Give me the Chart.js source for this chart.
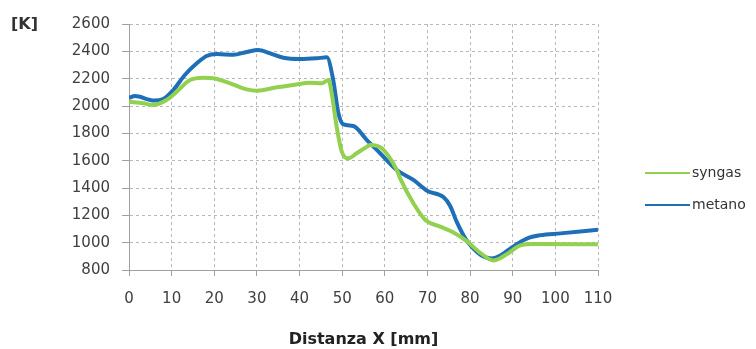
<!DOCTYPE html>
<html>
<head>
<meta charset="utf-8">
<script src="https://cdn.jsdelivr.net/npm/chart.js@4.4.1/dist/chart.umd.min.js"></script>
<style>
    html, body { margin: 0; padding: 0; background: #fff; }
    #wrap { position: relative; width: 756px; height: 349px; }
    #unit { position: absolute; left: 11px; top: 14px; font: bold 16px 'DejaVu Sans', sans-serif; color: #333; }
    .leg { position: absolute; left: 645px; font: 14px 'DejaVu Sans', sans-serif; color: #333; }
    .leg span { display: inline-block; width: 45px; height: 2px; vertical-align: middle; margin-right: 2px; }
</style>
</head>
<body>
<div id="wrap">
    <canvas id="chart" width="756" height="349"></canvas>
    <div id="unit">[K]</div>
    <div class="leg" style="top:164px"><span style="background:#92d050"></span>syngas</div>
    <div class="leg" style="top:196px"><span style="background:#1f6fb8"></span>metano</div>
</div>
<script>
// Distanza X [mm] -> temperatura [K]
const syngasX = [0, 3.4, 5.6, 8.8, 11.2, 14.3, 17.4, 19.8, 23.7, 27.6, 30, 34.7, 38.6, 42.5, 45.2, 46.8, 47.6, 48.7, 49.9, 51.5, 53.4, 55.8, 56.6, 59.3, 62.8, 63.6, 66.7, 69.5, 73, 76.1, 79.3, 82.4, 85.5, 88.6, 91.8, 94.9, 110];
const syngasY = [2031, 2020, 2007, 2044, 2105, 2190, 2207, 2203, 2166, 2122, 2112, 2137, 2154, 2171, 2166, 2190, 2080, 1849, 1666, 1617, 1654, 1702, 1715, 1690, 1532, 1471, 1288, 1166, 1117, 1075, 1010, 925, 870, 915, 980, 990, 988];

const metanoX = [0, 1.4, 5.9, 8, 10.4, 13.1, 15.9, 18.2, 20.6, 24.5, 27.6, 30.3, 33.1, 36.2, 40.1, 44, 46.4, 47.9, 49.1, 50.3, 52.6, 55.8, 58.9, 62.8, 66.7, 69.9, 73.8, 75.3, 76.9, 78.9, 80.4, 82.8, 85.1, 87.1, 89.8, 93.3, 96.5, 101.2, 110];
const metanoY = [2060, 2073, 2040, 2050, 2117, 2227, 2312, 2366, 2380, 2375, 2395, 2410, 2385, 2353, 2344, 2349, 2356, 2190, 1949, 1865, 1854, 1751, 1654, 1532, 1459, 1380, 1332, 1270, 1150, 1030, 970, 905, 885, 905, 965, 1030, 1055, 1068, 1095];

const yMin = 800, yMax = 2600, yStep = 200;
const xMin = 0, xMax = 110, xStep = 10;

const toPoints = (xs, ys) => xs.map((x, i) => ({ x: x, y: ys[i] }));
const tickFont = { family: "'DejaVu Sans', sans-serif", size: 15 };
const plain = (v) => String(v);

new Chart(document.getElementById('chart'), {
    type: 'line',
    data: {
        datasets: [
            {
                label: 'syngas',
                data: toPoints(syngasX, syngasY),
                borderColor: '#92d050',
                borderWidth: 4,
                pointRadius: 0,
                cubicInterpolationMode: 'monotone'
            },
            {
                label: 'metano',
                data: toPoints(metanoX, metanoY),
                borderColor: '#1f6fb8',
                borderWidth: 4,
                pointRadius: 0,
                cubicInterpolationMode: 'monotone'
            }
        ]
    },
    options: {
        responsive: false,
        animation: false,
        layout: { padding: { left: 0, top: 24, right: 158, bottom: 0 } },
        plugins: {
            legend: { display: false },
            tooltip: { enabled: false }
        },
        scales: {
            x: {
                type: 'linear',
                min: xMin,
                max: xMax,
                afterFit: (s) => { s.height = 79; },
                ticks: { stepSize: xStep, color: '#404040', font: tickFont, padding: 14, maxRotation: 0, callback: plain },
                grid: { color: '#b8b8b8', tickLength: 6, tickColor: '#a0a0a0', borderDash: [3, 3], tickBorderDash: [] },
                border: { color: '#a0a0a0', width: 1, dash: [3, 3] },
                title: {
                    display: true,
                    text: 'Distanza X [mm]',
                    color: '#222',
                    font: { family: "'DejaVu Sans', sans-serif", size: 16, weight: 'bold' },
                    padding: { top: 14, bottom: 0 }
                }
            },
            y: {
                min: yMin,
                max: yMax,
                afterFit: (s) => { s.width = 129; },
                ticks: { stepSize: yStep, color: '#404040', font: tickFont, padding: 12, callback: plain },
                grid: { color: '#b8b8b8', tickLength: 7, tickColor: '#a0a0a0', borderDash: [3, 3], tickBorderDash: [] },
                border: { color: '#a0a0a0', width: 1, dash: [3, 3] }
            }
        }
    }
});
</script>
</body>
</html>
